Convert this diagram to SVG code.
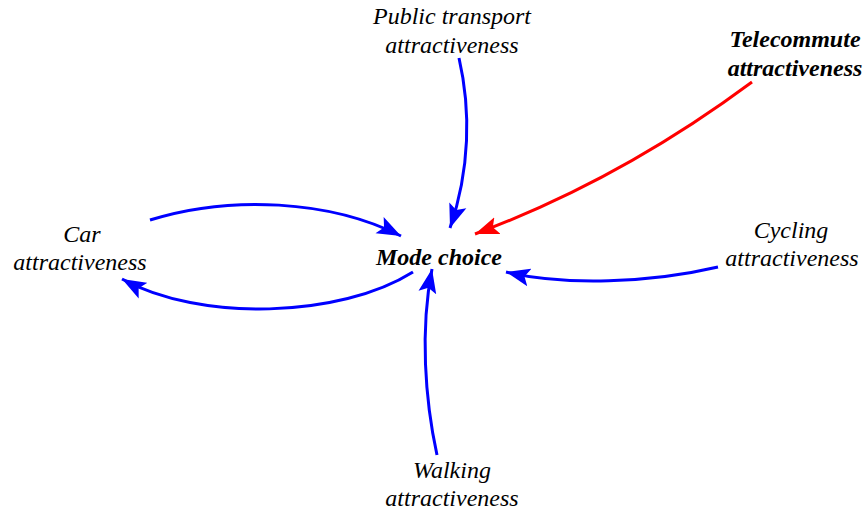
<svg xmlns="http://www.w3.org/2000/svg" width="864" height="511" viewBox="0 0 864 511">
  <defs>
    <marker id="headBlue" markerUnits="userSpaceOnUse" markerWidth="26" markerHeight="20" refX="24" refY="10" orient="auto">
      <path d="M0,1 L24,10 L0,19 L5,10 Z" fill="#0000ff"/>
    </marker>
    <marker id="headRed" markerUnits="userSpaceOnUse" markerWidth="26" markerHeight="20" refX="24" refY="10" orient="auto">
      <path d="M0,1 L24,10 L0,19 L5,10 Z" fill="#ff0000"/>
    </marker>
  </defs>
  <style>
    text { font-family: "Liberation Serif", "Times New Roman", serif; font-size: 24px; font-style: italic; fill: #000; text-anchor: middle; }
    .b { font-weight: bold; }
    .link { fill: none; stroke-width: 3; }
    .blue { stroke: #0000ff; marker-end: url(#headBlue); }
    .red { stroke: #ff0000; marker-end: url(#headRed); }
  </style>
  <rect width="864" height="511" fill="#fff"/>

  <g id="connectors">
    <path class="link blue" d="M459,58 C471,110 470,170 450,228"/>
    <path class="link red" d="M752,82 Q620,180 475,234"/>
    <path class="link blue" d="M150,220 C230,195 330,200 401,236"/>
    <path class="link blue" d="M413,272 C340,318 200,322 122,279"/>
    <path class="link blue" d="M718,267 C650,283 565,286 506,272"/>
    <path class="link blue" d="M437,455 C425,400 420,330 432,269"/>
  </g>

  <g id="public-transport">
    <text x="452" y="24">Public transport</text>
    <text x="452" y="53">attractiveness</text>
  </g>
  <g id="telecommute">
    <text class="b" x="795" y="47">Telecommute</text>
    <text class="b" x="795" y="76">attractiveness</text>
  </g>
  <g id="car">
    <text x="82" y="242">Car</text>
    <text x="80" y="270">attractiveness</text>
  </g>
  <g id="mode-choice">
    <text class="b" x="439" y="265">Mode choice</text>
  </g>
  <g id="cycling">
    <text x="791" y="238">Cycling</text>
    <text x="792" y="266">attractiveness</text>
  </g>
  <g id="walking">
    <text x="452" y="478">Walking</text>
    <text x="452" y="506">attractiveness</text>
  </g>
</svg>
